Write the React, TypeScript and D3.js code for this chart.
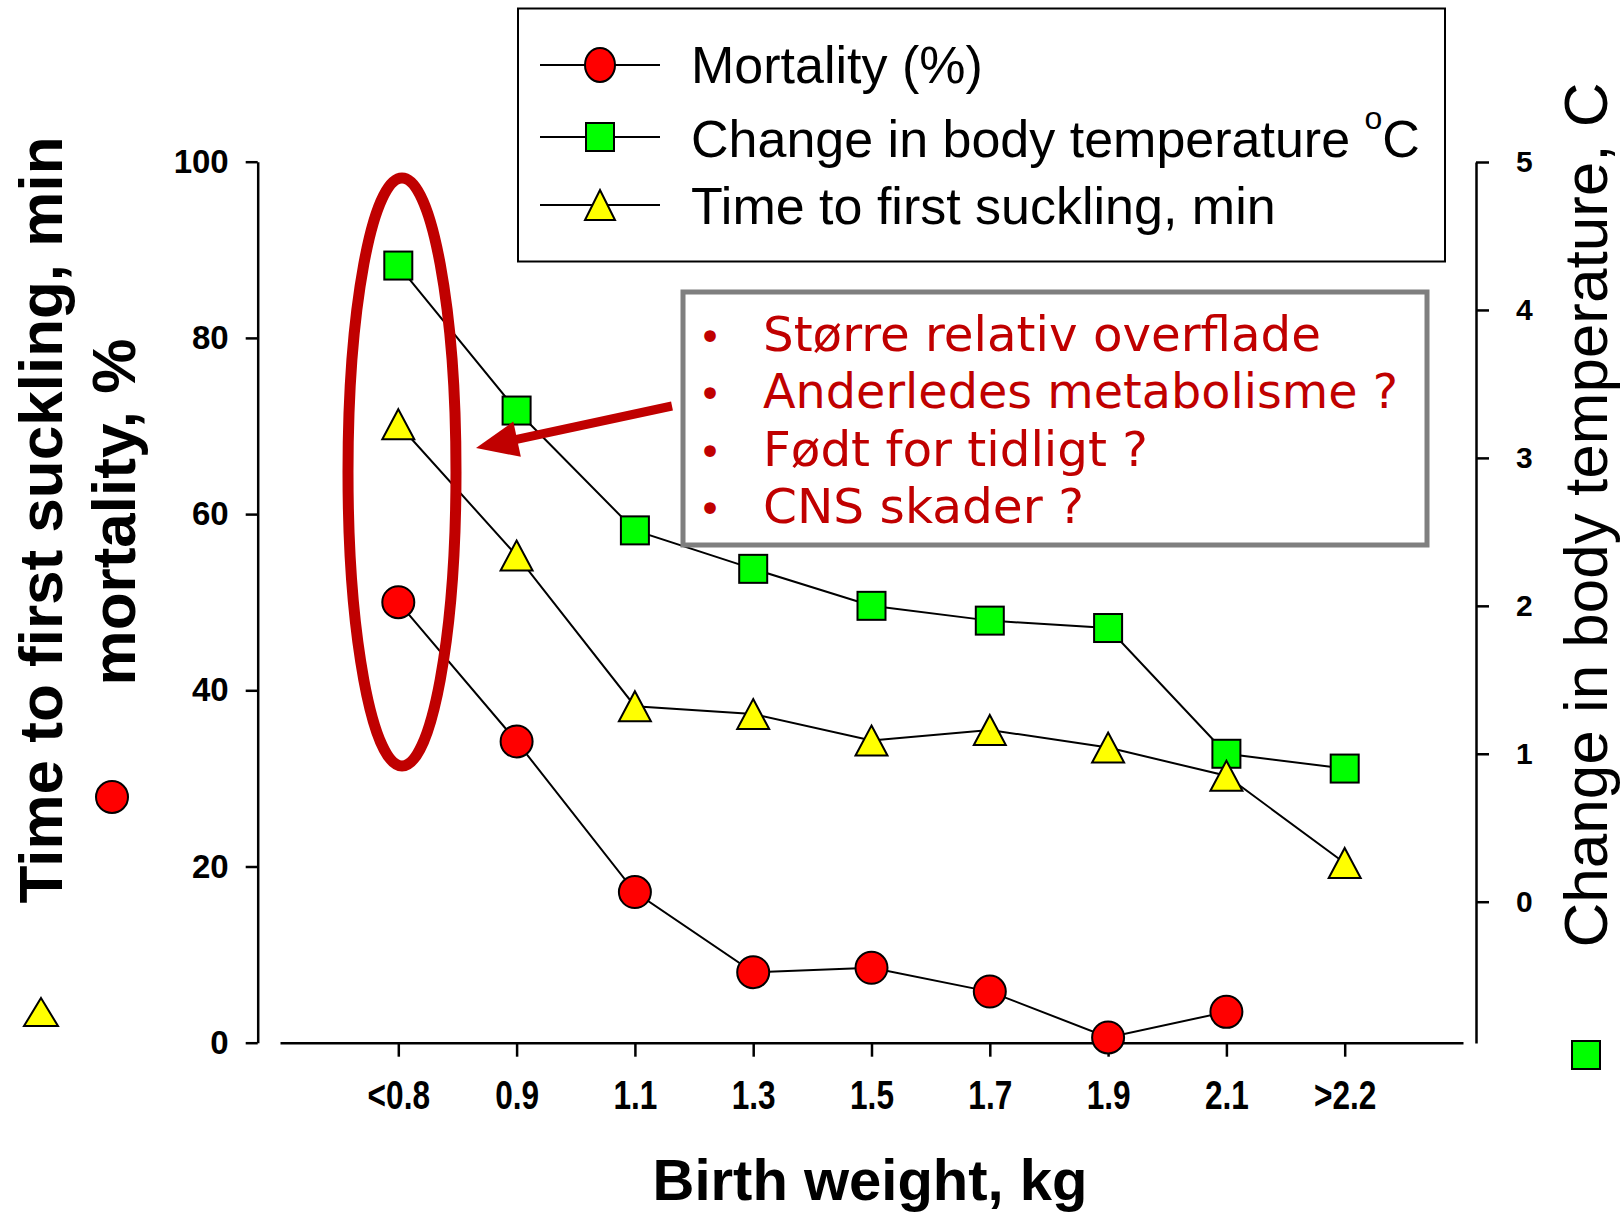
import { useEffect, useRef } from "react";
import * as d3 from "d3";

// birth weight classes, kg
const categories = ["<0.8", "0.9", "1.1", "1.3", "1.5", "1.7", "1.9", "2.1", ">2.2"];
// left axis series
const mortality: (number | null)[] = [50, 34.2, 17.1, 8.0, 8.5, 5.8, 0.6, 3.5, null];
const sucklingTime = [70.2, 55.3, 38.2, 37.3, 34.3, 35.5, 33.5, 30.3, 20.4];
// right axis series
const tempChange = [4.3, 3.32, 2.51, 2.25, 2.0, 1.9, 1.85, 1.0, 0.9];

const leftTicks = [0, 20, 40, 60, 80, 100];
const rightTicks = [0, 1, 2, 3, 4, 5];

const legendLabels = ["Mortality (%)", "Change in body temperature ", "Time to first suckling, min"];
const notes = ["Større relativ overflade", "Anderledes metabolisme ?", "Født for tidligt ?", "CNS skader ?"];

const W = 1622;
const H = 1215;
const ARIAL = "'Liberation Sans', Arial, Helvetica, sans-serif";
const RED = "#c00000";

export default function App() {
  const svgRef = useRef<SVGSVGElement>(null);

  useEffect(() => {
    const el = svgRef.current;
    if (el === null) return;
    const svg = d3.select(el);
    svg.selectAll("*").remove();

    const x = d3.scalePoint<string>().domain(categories).range([280, 1463]).padding(1);
    const yL = d3.scaleLinear().domain([0, 100]).range([1042.7, 161.7]);
    const yR = d3.scaleLinear().domain([-0.955, 5]).range([1043, 162]);

    // ---- axes
    const gL = svg.append("g")
      .attr("transform", "translate(257.7,0)")
      .call(d3.axisLeft(yL).tickValues(leftTicks).tickSize(12).tickSizeOuter(0).tickPadding(17).tickFormat(d3.format("d")));
    gL.attr("font-family", ARIAL).attr("font-size", 33).attr("font-weight", "bold");

    const gX = svg.append("g")
      .attr("transform", "translate(0,1042.7)")
      .call(d3.axisBottom(x).tickSize(14).tickSizeOuter(0));
    gX.attr("font-family", ARIAL).attr("font-size", 40).attr("font-weight", "bold");
    gX.selectAll(".tick text").attr("y", 66).attr("dy", 0).attr("transform", "scale(0.79,1)");

    const gR = svg.append("g")
      .attr("transform", "translate(1476,0)")
      .call(d3.axisRight(yR).tickValues(rightTicks).tickSize(13).tickSizeOuter(0).tickPadding(27).tickFormat(d3.format("d")));
    gR.attr("font-family", ARIAL).attr("font-size", 30).attr("font-weight", "bold");

    [gL, gX, gR].forEach(g => {
      g.selectAll("path.domain").attr("stroke-width", 2.5).attr("stroke", "#000");
      g.selectAll(".tick line").attr("stroke-width", 2.5).attr("stroke", "#000");
      g.selectAll(".tick text").attr("fill", "#000");
    });

    // ---- marker helpers
    const circle = (g: any, cx: number, cy: number, r = 16) =>
      g.append("circle").attr("cx", cx).attr("cy", cy).attr("r", r)
        .attr("fill", "#ff0000").attr("stroke", "#000").attr("stroke-width", 2);
    const square = (g: any, cx: number, cy: number, s = 28) =>
      g.append("rect").attr("x", cx - s / 2).attr("y", cy - s / 2).attr("width", s).attr("height", s)
        .attr("fill", "#00ff00").attr("stroke", "#000").attr("stroke-width", 2);
    const triangle = (g: any, cx: number, cy: number, w = 32, h = 30) =>
      g.append("path")
        .attr("d", `M${cx},${cy - h / 2}L${cx + w / 2},${cy + h / 2}L${cx - w / 2},${cy + h / 2}Z`)
        .attr("fill", "#ffff00").attr("stroke", "#000").attr("stroke-width", 2).attr("stroke-linejoin", "miter");

    // ---- series
    const plot = svg.append("g");
    const lineL = d3.line<number | null>()
      .defined(d => d !== null)
      .x((_, i) => x(categories[i])!)
      .y(d => yL(d as number));
    const lineR = d3.line<number>()
      .x((_, i) => x(categories[i])!)
      .y(d => yR(d));

    plot.append("path").attr("d", lineL(mortality)!).attr("fill", "none").attr("stroke", "#000").attr("stroke-width", 2);
    mortality.forEach((v, i) => { if (v !== null) circle(plot, x(categories[i])!, yL(v)); });

    plot.append("path").attr("d", lineR(tempChange)!).attr("fill", "none").attr("stroke", "#000").attr("stroke-width", 2);
    tempChange.forEach((v, i) => square(plot, x(categories[i])!, yR(v)));

    plot.append("path").attr("d", lineL(sucklingTime)!).attr("fill", "none").attr("stroke", "#000").attr("stroke-width", 2);
    sucklingTime.forEach((v, i) => triangle(plot, x(categories[i])!, yL(v)));

    // ---- axis titles
    svg.append("text")
      .attr("transform", "translate(62,520) rotate(-90)")
      .attr("text-anchor", "middle").attr("font-family", ARIAL).attr("font-weight", "bold").attr("font-size", 62)
      .text("Time to first suckling, min");
    svg.append("text")
      .attr("transform", "translate(135,512) rotate(-90)")
      .attr("text-anchor", "middle").attr("font-family", ARIAL).attr("font-weight", "bold").attr("font-size", 62)
      .text("mortality, %");
    svg.append("text")
      .attr("transform", "translate(1607,515) rotate(-90)")
      .attr("text-anchor", "middle").attr("font-family", ARIAL).attr("font-size", 62)
      .text("Change in body temperature, C");
    svg.append("text")
      .attr("x", 870).attr("y", 1200)
      .attr("text-anchor", "middle").attr("font-family", ARIAL).attr("font-weight", "bold").attr("font-size", 58)
      .text("Birth weight, kg");

    // markers next to axis titles
    svg.append("ellipse").attr("cx", 112).attr("cy", 797).attr("rx", 16).attr("ry", 16)
      .attr("fill", "#ff0000").attr("stroke", "#000").attr("stroke-width", 2);
    triangle(svg, 41, 1012, 34, 28);
    square(svg, 1586, 1055, 28);

    // ---- legend
    const leg = svg.append("g");
    leg.append("rect").attr("x", 518).attr("y", 8.5).attr("width", 927).attr("height", 253)
      .attr("fill", "#fff").attr("stroke", "#000").attr("stroke-width", 2);
    const rowY = [65, 137, 205];
    const rowBase = [83, 157, 224];
    legendLabels.forEach((lab, i) => {
      leg.append("line").attr("x1", 540).attr("x2", 660).attr("y1", rowY[i]).attr("y2", rowY[i])
        .attr("stroke", "#000").attr("stroke-width", 2);
      if (i === 0) leg.append("ellipse").attr("cx", 600).attr("cy", rowY[i]).attr("rx", 15).attr("ry", 17)
        .attr("fill", "#ff0000").attr("stroke", "#000").attr("stroke-width", 2);
      if (i === 1) leg.append("rect").attr("x", 586).attr("y", rowY[i] - 14).attr("width", 28).attr("height", 28)
        .attr("fill", "#00ff00").attr("stroke", "#000").attr("stroke-width", 2);
      if (i === 2) triangle(leg, 600, rowY[i], 30, 30);
      const t = leg.append("text").attr("x", 691).attr("y", rowBase[i])
        .attr("font-family", ARIAL).attr("font-size", 52).text(lab);
      if (i === 1) {
        t.append("tspan").attr("font-size", 32).attr("dy", -28).text("o");
        t.append("tspan").attr("font-size", 52).attr("dy", 28).text("C");
      }
    });

    // ---- annotation box
    const note = svg.append("g");
    note.append("rect").attr("x", 683).attr("y", 292).attr("width", 744).attr("height", 253)
      .attr("fill", "#fff").attr("stroke", "#7f7f7f").attr("stroke-width", 5);
    const noteBase = [351, 408, 466, 523];
    const noteLen = [558, 635, 385, 321];
    notes.forEach((n, i) => {
      note.append("text").attr("x", 710).attr("y", noteBase[i]).attr("text-anchor", "middle")
        .attr("font-family", "'DejaVu Sans', Verdana, sans-serif").attr("font-size", 40).attr("fill", RED)
        .text("•");
      note.append("text").attr("x", 763).attr("y", noteBase[i])
        .attr("font-family", "'DejaVu Sans', Verdana, sans-serif").attr("font-size", 48).attr("fill", RED)
        .attr("textLength", noteLen[i]).attr("lengthAdjust", "spacingAndGlyphs")
        .text(n);
    });

    // ---- highlight ellipse and arrow
    svg.append("ellipse").attr("cx", 402).attr("cy", 472).attr("rx", 54).attr("ry", 294)
      .attr("fill", "none").attr("stroke", RED).attr("stroke-width", 11);

    const start: [number, number] = [672, 406];
    const tip: [number, number] = [476, 448];
    const dx = tip[0] - start[0];
    const dy = tip[1] - start[1];
    const len = Math.hypot(dx, dy);
    const ux = dx / len, uy = dy / len;
    const headL = 42, headW = 18;
    const bx = tip[0] - ux * headL, by = tip[1] - uy * headL;
    svg.append("line").attr("x1", start[0]).attr("y1", start[1]).attr("x2", bx + ux * 4).attr("y2", by + uy * 4)
      .attr("stroke", RED).attr("stroke-width", 9);
    svg.append("path")
      .attr("d", `M${tip[0]},${tip[1]}L${bx + uy * headW},${by - ux * headW}L${bx - uy * headW},${by + ux * headW}Z`)
      .attr("fill", RED);
  }, []);

  return (
    <svg
      ref={svgRef}
      width={W}
      height={H}
      viewBox={`0 0 ${W} ${H}`}
      style={{ position: "absolute", left: 0, top: 0, display: "block", background: "#fff" }}
    />
  );
}
